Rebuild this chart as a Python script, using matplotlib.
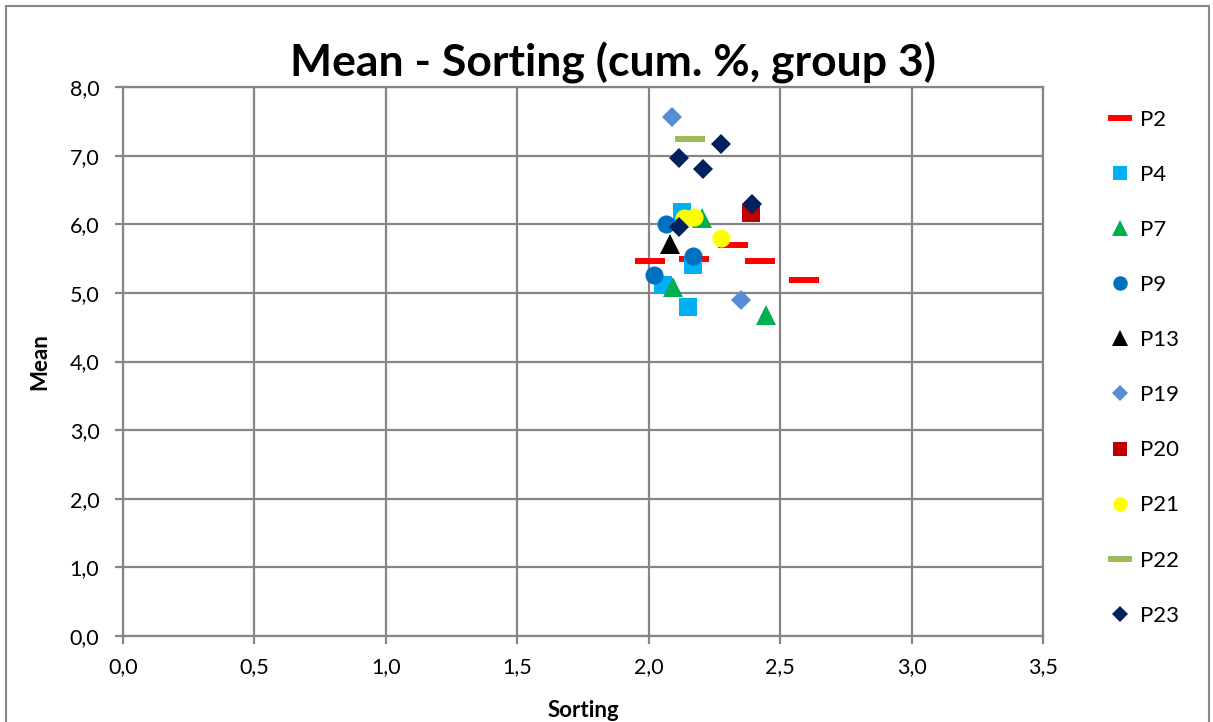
import matplotlib.pyplot as plt
from matplotlib.patches import Rectangle

plt.rcParams['font.family'] = ['Lato', 'DejaVu Sans']

# series: name -> sorting (x), mean (y)
names = ['P2', 'P4', 'P7', 'P9', 'P13', 'P19', 'P20', 'P21', 'P22', 'P23']
sorting = [
    [2.006, 2.172, 2.321, 2.424, 2.592],
    [2.127, 2.168, 2.055, 2.150],
    [2.201, 2.093, 2.445],
    [2.064, 2.169, 2.019],
    [2.079],
    [2.089, 2.350],
    [2.387],
    [2.134, 2.172, 2.275],
    [2.155],
    [2.275, 2.115, 2.205, 2.391, 2.115],
]
mean = [
    [5.468, 5.498, 5.702, 5.468, 5.190],
    [6.185, 5.405, 5.120, 4.800],
    [6.088, 5.083, 4.673],
    [6.000, 5.532, 5.259],
    [5.712],
    [7.566, 4.893],
    [6.161],
    [6.088, 6.100, 5.805],
    [7.239],
    [7.171, 6.971, 6.800, 6.302, 5.961],
]
markers = ['_', 's', '^', 'o', '^', 'D', 's', 'o', '_', 'D']
colors = ['#FF0000', '#00B0F0', '#00B050', '#0070C0', '#000000',
          '#558ED5', '#C00000', '#FFFF00', '#9BBB59', '#002060']
sizes = [22, 13, 14, 13, 14, 10, 13, 13, 22, 10]

fig = plt.figure(figsize=(12.13, 7.22), dpi=100)
ax = fig.add_axes([0.1014, 0.1191, 0.7586, 0.7604])

for i in range(len(names)):
    mew = 4.3 if markers[i] == '_' else 0
    ax.plot(sorting[i], mean[i], linestyle='none', marker=markers[i],
            color=colors[i], markersize=sizes[i], markeredgewidth=mew,
            label=names[i], zorder=3 + i)

grid_c = '#868686'
ax.set_xlim(0, 3.5)
ax.set_ylim(0, 8)
ax.set_xticks([i * 0.5 for i in range(8)])
ax.set_yticks(range(9))
ax.set_xticklabels([f'{i * 0.5:.1f}'.replace('.', ',') for i in range(8)])
ax.set_yticklabels([f'{i:.1f}'.replace('.', ',') for i in range(9)])
ax.grid(True, color=grid_c, linewidth=1.6, zorder=0)
ax.set_axisbelow(True)
for s in ax.spines.values():
    s.set_color(grid_c)
    s.set_linewidth(1.6)
ax.tick_params(axis='both', colors=grid_c, length=6, width=1.6,
               labelsize=15.5, labelcolor='black')
ax.tick_params(axis='x', pad=9)
ax.tick_params(axis='y', pad=11)

ax.set_xlabel('Sorting', fontsize=16, fontweight='bold', labelpad=17)
ax.set_ylabel('Mean', fontsize=16, fontweight='bold', labelpad=14)
fig.text(0.505, 0.913, 'Mean - Sorting (cum. %, group 3)', ha='center',
         va='center', fontsize=32, fontweight='bold')

leg = ax.legend(loc='upper left', bbox_to_anchor=(1.06, 0.975), frameon=False,
                fontsize=16, labelspacing=1.58, handlelength=1.1,
                handletextpad=0.35, markerscale=0.8, borderaxespad=0)

fig.patches.append(Rectangle((6 / 1213, -0.01), 1 - 10 / 1213, 1 - 6 / 722 + 0.01,
                             transform=fig.transFigure, fill=False,
                             edgecolor='#868686', linewidth=1.5))

fig.savefig('out.png', dpi=100)
